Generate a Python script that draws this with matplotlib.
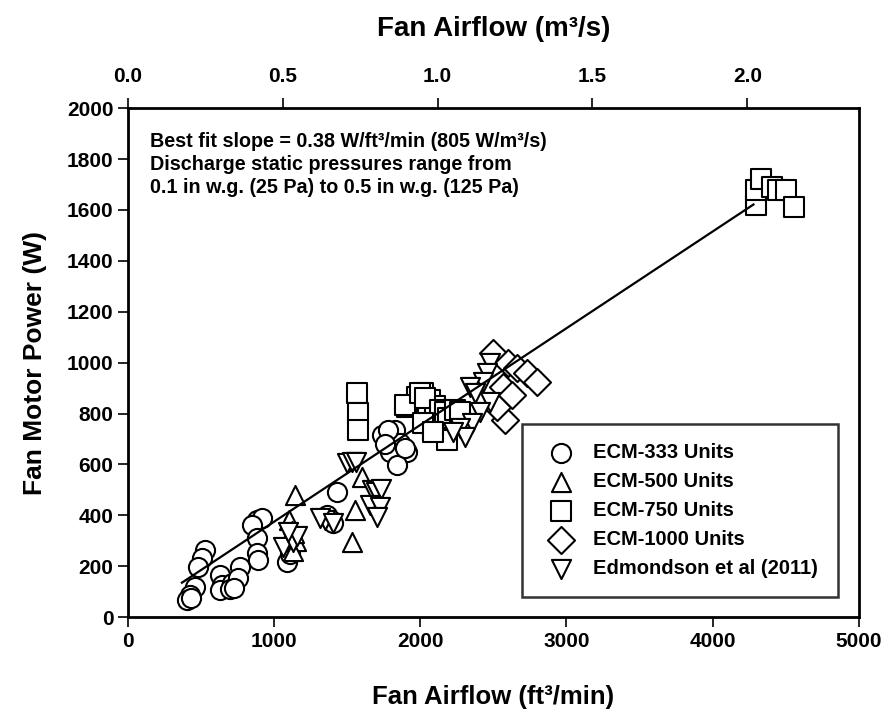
import matplotlib.pyplot as plt
import numpy as np

plt.rcParams['font.family'] = ['Liberation Sans', 'DejaVu Sans']
plt.rcParams['font.weight'] = 'bold'

# ECM-333 units
ecm333_x = [527, 506, 479, 458, 424, 403, 430, 629, 643, 629, 711, 700, 766, 752, 725,
            882, 916, 848, 882, 882, 889, 1088, 1110, 1390, 1402, 1430, 1360,
            1737, 1826, 1860, 1908, 1792, 1840, 1778, 1760, 1894]
ecm333_y = [263, 232, 197, 118, 86, 67, 75, 165, 126, 106, 134, 110, 197, 155, 115,
            381, 389, 361, 310, 251, 224, 216, 250, 381, 369, 491, 400,
            715, 735, 683, 648, 648, 597, 735, 680, 664]
# ECM-500 units
ecm500_x = [1142, 1532, 1553, 1100, 1120, 1150, 1130, 1600, 1140]
ecm500_y = [479, 295, 420, 380, 340, 300, 260, 550, 330]
# ECM-750 units
ecm750_x = [1566, 1573, 1573, 1908, 1977, 2018, 2066, 2086, 2182, 2052, 2100, 1894, 1997,
            2031, 2134, 2168, 2189, 2237, 2018, 2086, 2271,
            4300, 4300, 4330, 4410, 4450, 4500, 4560]
ecm750_y = [880, 801, 735, 825, 864, 880, 853, 735, 695, 801, 830, 833, 880,
            860, 813, 806, 782, 813, 762, 727, 806,
            1620, 1680, 1720, 1690, 1680, 1680, 1610]
# ECM-1000 units
ecm1000_x = [2497, 2599, 2661, 2729, 2798, 2565, 2579, 2524, 2627]
ecm1000_y = [1037, 998, 978, 959, 923, 904, 774, 825, 872]
# Edmondson et al (2011)
edm_x = [2476, 2456, 2428, 2339, 2373, 2476, 2407, 2353, 2271, 2305, 2223,
         1498, 1530, 1560, 1669, 1700, 1730, 1655, 1724, 1703, 1347, 1313, 1402,
         1060, 1128, 1160, 1094]
edm_y = [998, 959, 923, 904, 880, 845, 806, 762, 743, 707, 727,
         605, 610, 610, 499, 490, 505, 440, 432, 393, 381, 389, 369,
         275, 295, 320, 334]

fit_slope = 0.38
fit_icpt = -5
fit_x = [370, 4280]

fig = plt.figure(figsize=(8.88, 7.21), dpi=100)
ax = fig.add_axes([0.144, 0.144, 0.823, 0.706])

mk = dict(s=190, facecolors='white', edgecolors='black', linewidths=1.5, zorder=3)
ax.scatter(ecm333_x, ecm333_y, marker='o', label='ECM-333 Units', **mk)
ax.scatter(ecm500_x, ecm500_y, marker='^', label='ECM-500 Units', **mk)
ax.scatter(ecm750_x, ecm750_y, marker='s', label='ECM-750 Units', **mk)
ax.scatter(ecm1000_x, ecm1000_y, marker='D', label='ECM-1000 Units', **mk)
ax.scatter(edm_x, edm_y, marker='v', label='Edmondson et al (2011)', **mk)

fx = np.array(fit_x)
ax.plot(fx, fit_slope * fx + fit_icpt, color='black', lw=1.6, zorder=4)

ax.set_xlim(0, 5000)
ax.set_ylim(0, 2000)
ax.set_xticks(range(0, 5001, 1000))
ax.set_yticks(range(0, 2001, 200))
ax.tick_params(direction='out', length=7, width=1.2, labelsize=15)
for s in ax.spines.values():
    s.set_linewidth(2)
ax.set_xlabel('Fan Airflow (ft³/min)', fontsize=18.5, fontweight='bold', labelpad=25)
ax.set_ylabel('Fan Motor Power (W)', fontsize=19, fontweight='bold', labelpad=14)

cfm_per_m3s = 2118.88
top = ax.secondary_xaxis('top', functions=(lambda x: x / cfm_per_m3s, lambda m: m * cfm_per_m3s))
top.set_xticks([0.0, 0.5, 1.0, 1.5, 2.0])
top.set_xticklabels(['0.0', '0.5', '1.0', '1.5', '2.0'], fontweight='bold')
top.tick_params(direction='out', length=7, width=1.2, labelsize=15, pad=9)
top.set_xlabel('Fan Airflow (m³/s)', fontsize=20, fontweight='bold', labelpad=22)

ax.text(0.03, 0.953,
        'Best fit slope = 0.38 W/ft³/min (805 W/m³/s)\n'
        'Discharge static pressures range from\n'
        '0.1 in w.g. (25 Pa) to 0.5 in w.g. (125 Pa)',
        transform=ax.transAxes, va='top', ha='left', fontsize=14.2, fontweight='bold',
        linespacing=1.25)

leg = ax.legend(loc='lower right', bbox_to_anchor=(0.971, 0.039), fontsize=14.5,
                frameon=True, fancybox=False, edgecolor='black', handletextpad=0.6,
                labelspacing=0.5, borderpad=0.95, borderaxespad=0)
leg.get_frame().set_linewidth(1.8)

fig.savefig('out.png', dpi=100)
